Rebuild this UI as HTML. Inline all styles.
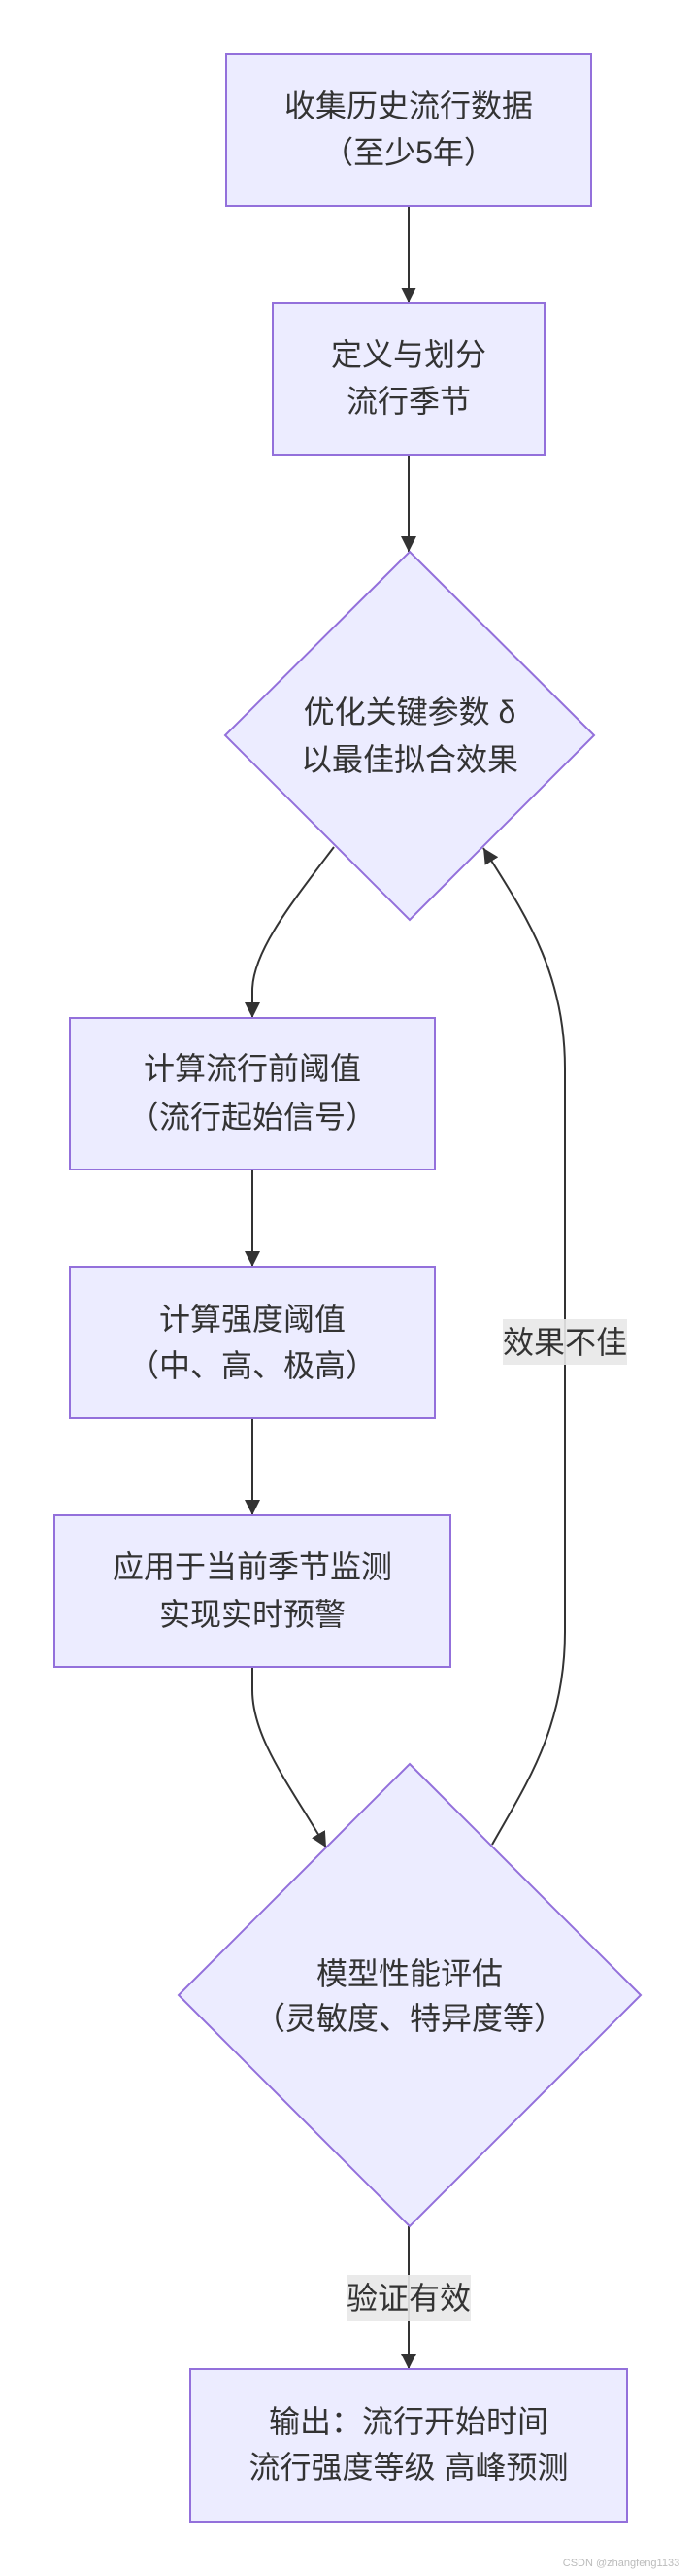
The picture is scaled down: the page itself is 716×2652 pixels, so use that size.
<!DOCTYPE html>
<html><head><meta charset="utf-8"><style>
html,body{margin:0;padding:0;background:#fff;}
svg{display:block;}
text{font-family:"Liberation Sans","Noto Sans CJK SC",sans-serif;fill:#333;font-size:32px;text-anchor:middle;dominant-baseline:central;}
.n{fill:#ECECFF;stroke:#9370DB;stroke-width:2;}
.e{fill:none;stroke:#333;stroke-width:2;}
</style></head><body>
<svg width="716" height="2652" viewBox="0 0 716 2652" xmlns="http://www.w3.org/2000/svg">
<defs><marker id="a" viewBox="0 0 10 10" refX="9" refY="5" markerWidth="8" markerHeight="8" markerUnits="userSpaceOnUse" orient="auto-start-reverse"><path d="M0,0L10,5L0,10z" fill="#333"/></marker>
<marker id="b" viewBox="0 0 10 10" refX="10" refY="5" markerWidth="16" markerHeight="16" markerUnits="userSpaceOnUse" orient="auto"><path d="M0,0L10,5L0,10z" fill="#333"/></marker></defs>

<path class="e" d="M421,212L421,312" marker-end="url(#b)"/>
<path class="e" d="M421,468L421,568" marker-end="url(#b)"/>
<path class="e" d="M344,872C300,930 260,980 260,1020L260,1048" marker-end="url(#b)"/>
<path class="e" d="M260,1204L260,1304" marker-end="url(#b)"/>
<path class="e" d="M260,1460L260,1560" marker-end="url(#b)"/>
<path class="e" d="M260,1716L260,1740C260,1790 300,1840 336,1902" marker-end="url(#b)"/>
<path class="e" d="M507,1899C540,1840 582,1780 582,1680L582,1100C582,1000 540,940 498,873" marker-end="url(#b)"/>
<path class="e" d="M421,2292L421,2439" marker-end="url(#b)"/>

<rect class="n" x="233" y="56" width="376" height="156"/>
<text x="421" y="109">收集历史流行数据</text><text x="421" y="157">（至少5年）</text>
<rect class="n" x="281" y="312" width="280" height="156"/>
<text x="421" y="365">定义与划分</text><text x="421" y="413">流行季节</text>
<polygon class="n" points="422,568 612,757 422,947 232,757"/>
<text x="422" y="733">优化关键参数 δ</text><text x="422" y="782">以最佳拟合效果</text>
<rect class="n" x="72" y="1048" width="376" height="156"/>
<text x="260" y="1100">计算流行前阈值</text><text x="260" y="1150">（流行起始信号）</text>
<rect class="n" x="72" y="1304" width="376" height="156"/>
<text x="260" y="1358">计算强度阈值</text><text x="260" y="1406">（中、高、极高）</text>
<rect class="n" x="56" y="1560" width="408" height="156"/>
<text x="260" y="1613">应用于当前季节监测</text><text x="260" y="1662">实现实时预警</text>
<polygon class="n" points="422,1816 660,2054 422,2292 184,2054"/>
<text x="422" y="2032">模型性能评估</text><text x="422" y="2078">（灵敏度、特异度等）</text>
<rect class="n" x="196" y="2439" width="450" height="157"/>
<text x="421" y="2493">输出：流行开始时间</text><text x="421" y="2540">流行强度等级 高峰预测</text>

<rect x="518" y="1358" width="128" height="47" fill="#e8e8e8" opacity="0.9"/>
<text x="582" y="1382">效果不佳</text>
<rect x="357" y="2342" width="128" height="47" fill="#e8e8e8" opacity="0.9"/>
<text x="421" y="2366">验证有效</text>
<text x="640" y="2639" style="font-size:11px;fill:#bbb;">CSDN @zhangfeng1133</text>
</svg>
</body></html>
